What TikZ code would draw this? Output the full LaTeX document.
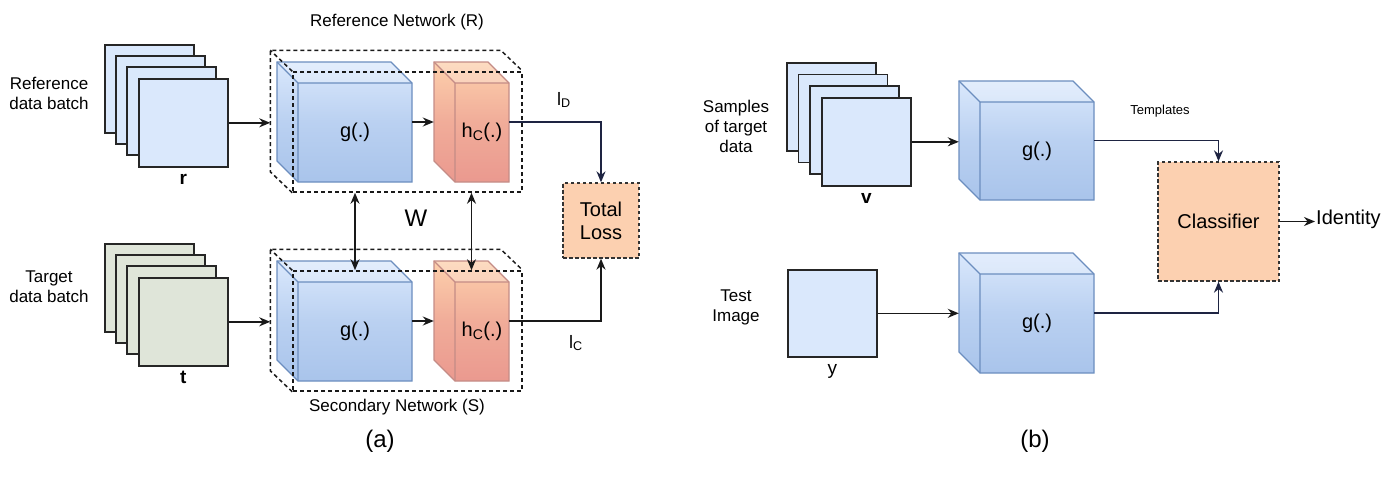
\documentclass[tikz,border=0pt]{standalone}
\usepackage{fontspec}
\setmainfont{Liberation Sans}
\usetikzlibrary{calc,positioning,arrows.meta}

\definecolor{refblue}{RGB}{218,232,252}
\definecolor{tgtgreen}{RGB}{223,229,217}
\definecolor{gtop}{RGB}{218,232,252}
\definecolor{gbot}{RGB}{169,196,235}
\definecolor{gline}{RGB}{108,142,191}
\definecolor{htop}{RGB}{253,208,172}
\definecolor{hbot}{RGB}{234,153,143}
\definecolor{hline}{RGB}{196,140,134}
\definecolor{lossfill}{RGB}{252,208,176}
\definecolor{wire}{RGB}{30,36,66}

\tikzset{
  sheet/.style={draw=black!85, line width=1.6pt, minimum width=89pt, minimum height=88pt, inner sep=0pt, anchor=north west},
  sheetlab/.style={font=\fontsize{19}{22}\selectfont, text height=13pt, text depth=3pt, inner sep=1.5pt},
  sidelab/.style={font=\fontsize{17}{20}\selectfont, align=center},
  cubelab/.style={font=\fontsize{20}{24}\selectfont},
  biglab/.style={font=\fontsize{24}{28}\selectfont},
  netbox/.style={draw=black!90, line width=1.5pt, dash pattern=on 4pt off 3pt},
  lossbox/.style={draw=black!80, line width=1.3pt, dash pattern=on 3.5pt off 2.5pt, fill=lossfill, align=center, font=\fontsize{20}{23}\selectfont},
  conn/.style={draw=black!90, line width=1.6pt},
}

\begin{document}
\begin{tikzpicture}[x=1pt, y=-1pt, >={Stealth[length=11pt,width=9pt]}]
            \useasboundingbox (0,0) rectangle (1400,480);

            % 数据批次 (r, t, v)
            \foreach \nm/\xs/\ys/\dd/\col/\lab in {rimg/138/78/11/refblue/\textbf{r}, timg/138/277/11/tgtgreen/\textbf{t}, vimg/821/97/11.3/refblue/\textbf{v}}{
              \foreach \k in {3,2,1}
                \draw[draw=black!85, line width=1.6pt, fill=\col] (\xs-\dd*\k,\ys-\dd*\k) rectangle ++(89,88);
              \node[sheet, fill=\col] (\nm) at (\xs,\ys) {};
              \node[sheetlab, below=2pt of \nm] (\nm-lab) {\lab};
            }
            % 测试图像 y
            \node[sheet, fill=refblue, minimum height=87pt] (yimg) at (787,269) {};
            \node[sheetlab, below=2pt of yimg] (yimg-lab) {y};

            % 立方体 g(.) 和 h_C(.)
            \foreach \nm/\xa/\ya/\xb/\yb/\ct/\cb/\cl/\lab in {
                gR/298/83/412/182/gtop/gbot/gline/g(.),
                hR/455/83/509/182/htop/hbot/hline/h\textsubscript{C}(.),
                gS/298/282/412/381/gtop/gbot/gline/g(.),
                hS/455/282/509/381/htop/hbot/hline/h\textsubscript{C}(.),
                gV/980/102/1094/200/gtop/gbot/gline/g(.),
                gY/980/274/1094/373/gtop/gbot/gline/g(.)}{
              \shade[top color=\ct, bottom color=\cb, middle color=\cb!65!\ct]
                (\xa-21,\ya-21) -- (\xb-21,\ya-21) -- (\xb,\ya) -- (\xb,\yb) -- (\xa,\yb) -- (\xa-21,\yb-21) -- cycle;
              \fill[white, opacity=0.25] (\xa-21,\ya-21) -- (\xb-21,\ya-21) -- (\xb,\ya) -- (\xa,\ya) -- cycle;
              \draw[draw=\cl, line width=1.2pt]
                (\xa-21,\ya-21) -- (\xb-21,\ya-21) -- (\xb,\ya) -- (\xb,\yb) -- (\xa,\yb) -- (\xa-21,\yb-21) -- cycle;
              \draw[draw=\cl, line width=1.2pt] (\xa-21,\ya-21) -- (\xa,\ya) -- (\xb,\ya) (\xa,\ya) -- (\xa,\yb);
              \node[minimum width={\xb-\xa+21}, minimum height={\yb-\ya+21}, inner sep=0pt] (\nm) at ({(\xa+\xb-21)/2},{(\ya+\yb-21)/2}) {};
              \node[cubelab] (\nm-txt) at ({(\xa+\xb)/2},{(\ya+\yb)/2}) {\lab};
            }

            % 虚线框: 网络 R 和 S
            \foreach \nm/\yc in {netR/132, netS/331}{
              \node[netbox, minimum width=229pt, minimum height=120pt, inner sep=0pt] (\nm) at (407.5,\yc) {};
              \draw[netbox] (\nm.south west) -- ++(-22,-21) |- ($(\nm.north east)+(-22,-21)$) -- (\nm.north east);
              \draw[netbox] (\nm.north west) -- ++(-22,-21);
              \coordinate (\nm-back) at ($(\nm.north west)+(-22,-21)$);
            }

            % 标注 (a)
            \node[sidelab] (refLab) at (49,93) {Reference\\data batch};
            \node[sidelab] (tgtLab) at (49,287) {Target\\data batch};
            \node[sidelab] (netRlab) at (397,22) {Reference Network (R)};
            \node[sidelab] (netSlab) at (397,407) {Secondary Network (S)};
            \node[biglab] (wlab) at (416,218) {W};
            \node[sidelab, font=\fontsize{18}{20}\selectfont] (lD) at (564,100) {l\textsubscript{D}};
            \node[sidelab, font=\fontsize{18}{20}\selectfont] (lC) at (576,343) {l\textsubscript{C}};
            \node[lossbox, minimum width=76pt, minimum height=75pt, inner sep=0pt] (loss) at (601,220.5) {Total\\Loss};
            \node[biglab] (capa) at (380,441) {(a)};

            % 连线 (a)
            \draw[conn,->] (rimg.east) -- (rimg.east -| netR-back);
            \draw[conn,->] (timg.east) -- (timg.east -| netS-back);
            \draw[conn,->] (gR) -- (hR);
            \draw[conn,->] (gS) -- (hS);
            \draw[conn,draw=wire,->] (hR.east) -| (loss.north);
            \draw[conn,->] (hS.east) -| (loss.south);
            \draw[conn,<->] (netR.south -| gR-txt) -- (netS.north -| gR-txt);
            \draw[conn,<->] (netR.south -| hR) -- (netS.north -| hR);

            % 标注 (b)
            \node[sidelab] (smpLab) at (736,126) {Samples\\of target\\data};
            \node[sidelab] (tstLab) at (736,307) {Test\\Image};
            \node[font=\fontsize{13}{15}\selectfont] (tpl) at (1160,111) {Templates};
            \node[lossbox, minimum width=121pt, minimum height=119pt, inner sep=0pt] (cls) at (1218.5,221.5) {Classifier};
            \node[cubelab, anchor=west, inner sep=1pt] (ident) at (1315,219) {Identity};
            \node[biglab] (capb) at (1035,441) {(b)};

            % 连线 (b)
            \draw[conn,->] (vimg.east) -- (vimg.east -| gV.west);
            \draw[conn,->] (yimg.east) -- (yimg.east -| gY.west);
            \draw[conn,draw=wire,->] (gV.east) -| (cls.north);
            \draw[conn,draw=wire,->] (gY.east) -| (cls.south);
            \draw[conn,->] (cls.east) -- (cls.east -| ident.west);
\end{tikzpicture}
\end{document}
